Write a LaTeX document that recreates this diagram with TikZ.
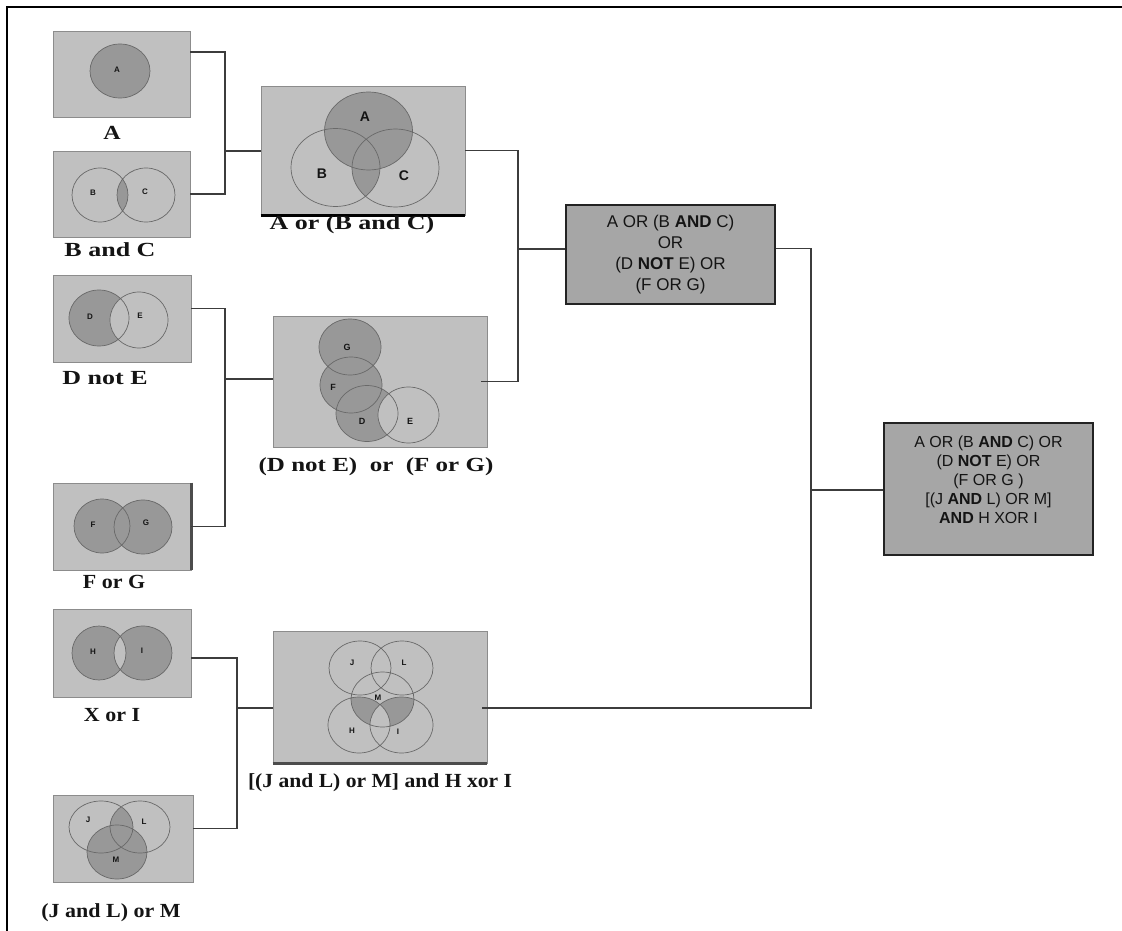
\documentclass[tikz,border=0pt]{standalone}
\usepackage{fontspec}
\setmainfont{Liberation Serif}
\setsansfont{Liberation Sans}
\usepackage{graphicx}
\usetikzlibrary{calc}
\definecolor{panelfill}{RGB}{192, 192, 192}
\definecolor{panelline}{RGB}{140, 140, 140}
\definecolor{venncolor}{RGB}{152, 152, 152}
\definecolor{ringcolor}{RGB}{105, 105, 105}
\definecolor{boxfill}{RGB}{166, 166, 166}
\definecolor{boxline}{RGB}{35, 35, 35}
\definecolor{wirecolor}{RGB}{60, 60, 60}
\definecolor{inkcolor}{RGB}{20, 20, 20}
\tikzset{
vpanel/.style={
  draw=panelline,
  fill=panelfill,
  line width=0.9pt,
  inner sep=0pt
},
logicbox/.style={
  draw=boxline,
  fill=boxfill,
  line width=1.6pt,
  align=center,
  font=\sffamily\fontsize{17}{21}\selectfont,
  text=inkcolor
},
capt/.style={
  font=\bfseries\fontsize{20}{24}\selectfont,
  text=inkcolor,
  inner sep=0pt
},
vtag/.style={
  font=\sffamily\bfseries\fontsize{8}{8}\selectfont,
  text=inkcolor,
  inner sep=0pt
},
vbigtag/.style={
  vtag,
  font=\sffamily\bfseries\fontsize{14}{14}\selectfont
},
vfill/.style={
  fill=venncolor
},
vring/.style={
  draw=ringcolor,
  line width=0.7pt
},
wire/.style={
  draw=wirecolor,
  line width=1.3pt
},
outerframe/.style={
  draw=black,
  line width=2.8pt
}
}
\begin{document}
\begin{tikzpicture}[x=1pt, y=-1pt]
  \useasboundingbox (0,0) rectangle (1122,931);
  \draw[outerframe] (1122,7) -- (7,7) -- (7,931);

  % Panels
  \node[vpanel, minimum width=137, minimum height=86] (a) at (121.5,74) {};
  \node[vpanel, minimum width=137, minimum height=86] (bc) at (121.5,194) {};
  \node[vpanel, minimum width=204, minimum height=129] (abc) at (363,150.5) {};
  \node[vpanel, minimum width=138, minimum height=87] (de) at (122,318.5) {};
  \node[vpanel, minimum width=214, minimum height=131] (defg) at (380,381.5) {};
  \node[vpanel, minimum width=138, minimum height=87] (fg) at (122,526.5) {};
  \node[vpanel, minimum width=138, minimum height=88] (hi) at (122,653) {};
  \node[vpanel, minimum width=140, minimum height=87] (jlm) at (123,838.5) {};
  \node[vpanel, minimum width=214, minimum height=132] (jlmhi) at (380,697) {};
  \draw[line width=3pt, black] (abc.south west) -- (abc.south east);
  \draw[line width=2.5pt, black!70] (fg.north east) -- (fg.south east);
  \draw[line width=2.5pt, black!70] (jlmhi.south west) -- (jlmhi.south east);

  % A
  \fill[vfill] (120,71) ellipse [x radius=30, y radius=27];
  \draw[vring] (120,71) ellipse [x radius=30, y radius=27];
  \node[vtag] (tA) at (117,70) {A};

  % B and C
  \begin{scope}
    \clip (100,195) ellipse [x radius=28, y radius=27];
    \fill[vfill] (146,195) ellipse [x radius=29, y radius=27];
  \end{scope}
  \draw[vring] (100,195) ellipse [x radius=28, y radius=27]
    (146,195) ellipse [x radius=29, y radius=27];
  \node[vtag] (tB) at (93,193) {B};
  \node[vtag] (tC) at (145,192) {C};

  % A or (B and C)
  \fill[vfill] (368.5,131) ellipse [x radius=44, y radius=39];
  \begin{scope}
    \clip (335.5,167.5) ellipse [x radius=44.5, y radius=39];
    \fill[vfill] (395.5,168) ellipse [x radius=43.5, y radius=39];
  \end{scope}
  \draw[vring] (368.5,131) ellipse [x radius=44, y radius=39]
    (335.5,167.5) ellipse [x radius=44.5, y radius=39]
    (395.5,168) ellipse [x radius=43.5, y radius=39];
  \node[vbigtag] (tA2) at (365,117) {A};
  \node[vbigtag] (tB2) at (322,174) {B};
  \node[vbigtag] (tC2) at (404,176) {C};

  % D not E
  \fill[vfill] (99,318) ellipse [x radius=30, y radius=28];
  \begin{scope}
    \clip (99,318) ellipse [x radius=30, y radius=28];
    \fill[panelfill] (139,320) ellipse [x radius=29, y radius=28];
  \end{scope}
  \draw[vring] (99,318) ellipse [x radius=30, y radius=28]
    (139,320) ellipse [x radius=29, y radius=28];
  \node[vtag] (tD) at (90,317) {D};
  \node[vtag] (tE) at (140,316) {E};

  % (D not E) or (F or G)
  \fill[vfill] (350,347) ellipse [x radius=31, y radius=28]
    (351,385) ellipse [x radius=31, y radius=28]
    (367,413.5) ellipse [x radius=31, y radius=28];
  \begin{scope}
    \clip (367,413.5) ellipse [x radius=31, y radius=28];
    \fill[panelfill] (408.5,415) ellipse [x radius=30.5, y radius=28];
  \end{scope}
  \draw[vring] (350,347) ellipse [x radius=31, y radius=28]
    (351,385) ellipse [x radius=31, y radius=28]
    (367,413.5) ellipse [x radius=31, y radius=28]
    (408.5,415) ellipse [x radius=30.5, y radius=28];
  \node[vtag, font=\sffamily\bfseries\fontsize{9}{9}\selectfont] (tG2) at (347,347) {G};
  \node[vtag, font=\sffamily\bfseries\fontsize{9}{9}\selectfont] (tF2) at (333,387) {F};
  \node[vtag, font=\sffamily\bfseries\fontsize{9}{9}\selectfont] (tD2) at (362,421) {D};
  \node[vtag, font=\sffamily\bfseries\fontsize{9}{9}\selectfont] (tE2) at (410,421) {E};

  % F or G
  \fill[vfill] (102,526) ellipse [x radius=28, y radius=27]
    (143,527) ellipse [x radius=29, y radius=27];
  \draw[vring] (102,526) ellipse [x radius=28, y radius=27]
    (143,527) ellipse [x radius=29, y radius=27];
  \node[vtag] (tF) at (93,525) {F};
  \node[vtag] (tG) at (146,523) {G};

  % H xor I
  \fill[vfill, even odd rule] (99,653) ellipse [x radius=27, y radius=27]
    (143,653) ellipse [x radius=29, y radius=27];
  \draw[vring] (99,653) ellipse [x radius=27, y radius=27]
    (143,653) ellipse [x radius=29, y radius=27];
  \node[vtag] (tH) at (93,652) {H};
  \node[vtag] (tI) at (142,651) {I};

  % (J and L) or M
  \begin{scope}
    \clip (101,827) ellipse [x radius=32, y radius=26];
    \fill[vfill] (140,827) ellipse [x radius=30, y radius=26];
  \end{scope}
  \fill[vfill] (117,852) ellipse [x radius=30, y radius=27];
  \draw[vring] (101,827) ellipse [x radius=32, y radius=26]
    (140,827) ellipse [x radius=30, y radius=26]
    (117,852) ellipse [x radius=30, y radius=27];
  \node[vtag] (tJ) at (88,820) {J};
  \node[vtag] (tL) at (144,822) {L};
  \node[vtag] (tM) at (116,860) {M};

  % [(J and L) or M] and H xor I
  \begin{scope}
    \clip (382.5,699.5) ellipse [x radius=31.5, y radius=27.5];
    \fill[vfill, even odd rule] (359,725) ellipse [x radius=31, y radius=28]
      (401.5,725) ellipse [x radius=31.5, y radius=28];
  \end{scope}
  \draw[vring] (360,668) ellipse [x radius=31, y radius=27]
    (402,668) ellipse [x radius=31, y radius=27]
    (382.5,699.5) ellipse [x radius=31.5, y radius=27.5]
    (359,725) ellipse [x radius=31, y radius=28]
    (401.5,725) ellipse [x radius=31.5, y radius=28];
  \node[vtag] (tJ2) at (352,663) {J};
  \node[vtag] (tL2) at (404,663) {L};
  \node[vtag] (tM2) at (378,698) {M};
  \node[vtag] (tH2) at (352,731) {H};
  \node[vtag] (tI2) at (398,732) {I};

  % Captions
  \node[capt] (capA) at (112,133) {\scalebox{1.2}[1]{A}};
  \node[capt] (capBC) at (110,250) {\scalebox{1.3}[1]{B and C}};
  \node[capt] (capABC) at (352,225) {\scalebox{1.3}[1]{A or (B and C)}};
  \node[capt] (capDE) at (105,378) {\scalebox{1.3}[1]{D not E}};
  \node[capt] (capDEFG) at (376,467) {\scalebox{1.25}[1]{(D not E)~ or~ (F or G)}};
  \node[capt] (capFG) at (114,582) {\scalebox{1.1}[1]{F or G}};
  \node[capt] (capHI) at (112,715) {\scalebox{1.1}[1]{X or I}};
  \node[capt] (capJLM) at (111,913) {\scalebox{1.1}[1]{(J and L) or M}};
  \node[capt] (capJLMHI) at (380,783) {\scalebox{1.08}[1]{[(J and L) or M] and H xor I}};

  % Result boxes
  \node[logicbox, minimum width=209, minimum height=99] (orbox) at (670.5,254.5)
    {A OR (B \textbf{AND} C)\\OR\\(D \textbf{NOT} E) OR\\(F OR G)};
  \node[logicbox, minimum width=209, minimum height=132,
    font=\sffamily\fontsize{16}{19}\selectfont] (allbox) at (988.5,489)
    {A OR (B \textbf{AND} C) OR\\(D \textbf{NOT} E) OR\\(F OR G )\\{}%
     [(J \textbf{AND} L) OR M]\\\textbf{AND} H XOR I\\\mbox{}};

  % Connectors
  \coordinate (k1) at (225,151);
  \coordinate (k2) at (225,379);
  \coordinate (k3) at (237,708);
  \coordinate (k4) at (518,249);
  \coordinate (k5) at (811,490);
  \draw[wire] ([yshift=22pt]a.east) -| (k1) |- (bc.east);
  \draw[wire] (k1) -- (k1 -| abc.west);
  \draw[wire] ([yshift=10pt]de.east) -| (k2) |- (fg.east);
  \draw[wire] (k2) -- (k2 -| defg.west);
  \draw[wire] ([yshift=-5pt]hi.east) -| (k3) |- ([yshift=10pt]jlm.east);
  \draw[wire] (k3) -- (k3 -| jlmhi.west);
  \draw[wire] (abc.east) -| (k4) |- ([xshift=-6pt]defg.east);
  \draw[wire] (k4) -- (k4 -| orbox.west);
  \draw[wire] ([yshift=6pt]orbox.east) -| (k5) |- ([xshift=-5pt, yshift=-11pt]jlmhi.east);
  \draw[wire] (k5) -- (k5 -| allbox.west);
\end{tikzpicture}
\end{document}
